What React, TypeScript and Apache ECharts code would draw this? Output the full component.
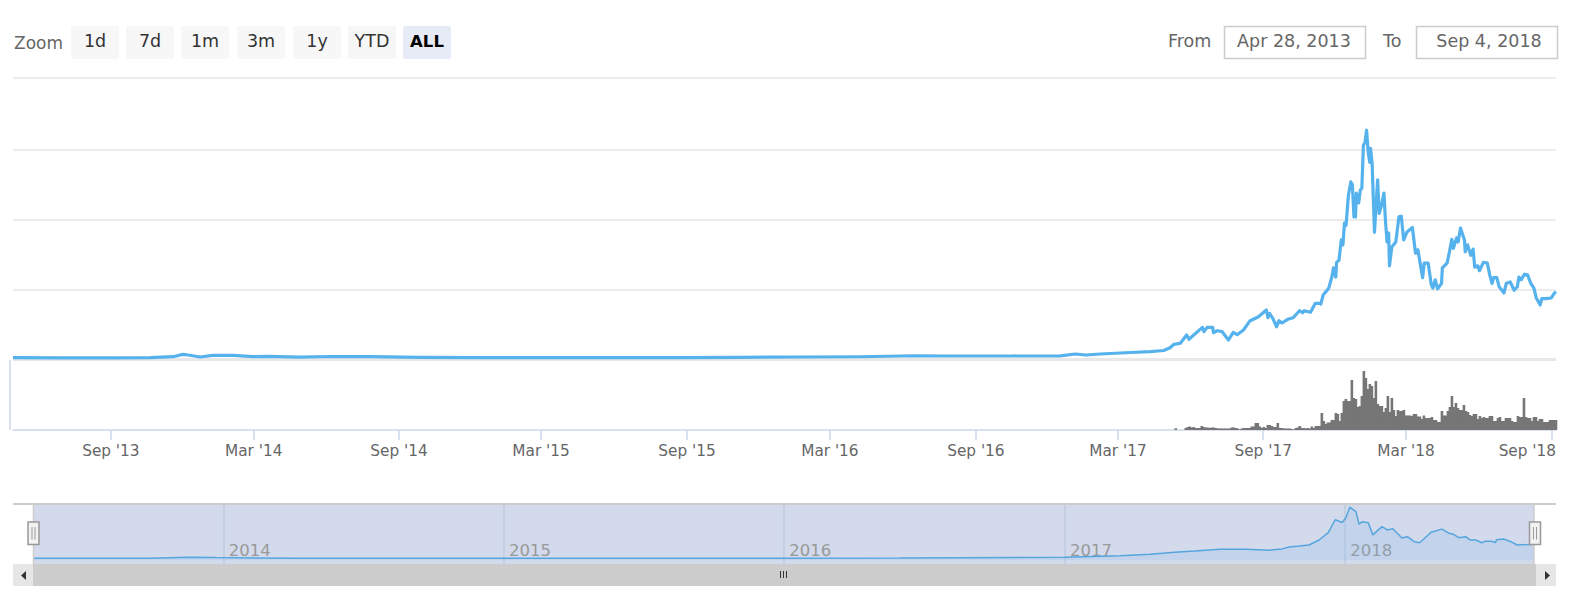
import { useEffect, useRef } from 'react';
import * as echarts from 'echarts';

// x axis runs in days since Apr 28, 2013
const END_DAY = 1955;

const priceDays = [
  0, 60, 123, 174, 203, 215, 222, 237, 253, 279, 304, 322, 364, 402, 452, 516, 592, 668, 744, 845, 921, 997, 1073,
  1143, 1188, 1264, 1327, 1346, 1359, 1378, 1416, 1441, 1458, 1466, 1471, 1479, 1487, 1490, 1496, 1507, 1509, 1513,
  1520, 1521, 1526, 1532, 1540, 1546, 1551, 1559, 1567, 1578, 1588, 1590, 1592, 1596, 1601, 1604, 1608, 1615, 1622,
  1630, 1634, 1636, 1644, 1650, 1655, 1657, 1660, 1667, 1671, 1673, 1676, 1677, 1680, 1683, 1685, 1687, 1689, 1692,
  1695, 1697, 1699, 1701, 1702, 1705, 1707, 1709, 1711, 1713, 1715, 1717, 1719, 1720, 1722, 1725, 1729, 1731, 1734,
  1737, 1739, 1741, 1743, 1744, 1747, 1752, 1756, 1759, 1762, 1766, 1773, 1777, 1780, 1786, 1788, 1793, 1797, 1799,
  1802, 1805, 1810, 1811, 1817, 1820, 1823, 1825, 1829, 1831, 1834, 1839, 1840, 1843, 1847, 1850, 1852, 1856, 1858,
  1863, 1868, 1871, 1874, 1876, 1880, 1883, 1889, 1892, 1897, 1902, 1906, 1908, 1911, 1915, 1919, 1923, 1927, 1930,
  1935, 1937, 1942, 1949, 1953, 1955,
];
const priceValues = [
  2.6, 2.4, 2.4, 2.6, 4, 7.4, 6.4, 3.6, 6, 6, 4, 4.6, 3.3, 4.3, 4, 3.1, 2.7, 2.7, 2.7, 2.6, 3.1, 3.6, 3.9, 5.4, 5, 5,
  5.3, 7.9, 6.4, 7.9, 10, 11.4, 12.9, 16.9, 21.7, 23.2, 35, 28.9, 35, 46, 39.8, 46, 46, 38.3, 41.2, 39.8, 27.9, 38.9,
  35.5, 42.2, 55, 61.2, 70.8, 59.8, 66, 59.3, 46.9, 55.5, 52.2, 57.5, 59.8, 69.8, 66.9, 69.8, 67.5, 80.4, 80.4, 79.4,
  92.2, 102, 118, 131, 118, 139, 142, 171, 164, 195, 192, 235, 254, 250, 204, 204, 238, 224, 242, 245, 307, 310, 328,
  297, 282, 302, 281, 182, 257, 209, 221, 238, 197, 168, 181, 134, 161, 168, 204, 205, 171, 182, 189, 152, 157, 117,
  138, 138, 107, 102, 114, 101, 109, 131, 138, 154, 172, 159, 174, 168, 188, 171, 154, 164, 149, 158, 132, 134, 127,
  139, 138, 121, 109, 117, 117, 104, 95, 109, 111, 99, 104, 118, 114, 122, 121, 109, 102, 88, 78, 87, 87, 88, 95, 97,
];

// one grouped bar every 2.535 days, the first one on day 1473
const volumeStartDay = 1473;
const volumeStepDays = 2.535;
const volumeValues = [
  1.7, 0, 0, 0, 0, 2, 3, 3.5, 2.5, 3, 2, 2, 2, 4, 3, 2.5, 2.5, 2, 2.5, 2.5, 2, 1.5, 1.5, 1.5, 1.5, 1.5, 1.5, 1.5, 2.5,
  2.5, 2, 1.5, 0.5, 1.5, 2, 2, 2, 2, 3.5, 3.5, 7, 7, 3.5, 2, 3, 2, 5, 5, 4, 3, 3, 7, 2, 2, 1.5, 1.5, 1.5, 1.5, 1, 0.5,
  2, 2.5, 4, 2, 2, 1.5, 2, 1.5, 3.5, 2, 4, 4, 4, 17, 9, 6, 7.5, 7.5, 10, 10, 17, 16, 9, 17, 29, 31, 29, 29, 50, 32, 31,
  23, 24, 34, 59, 52, 41, 46, 44, 32, 49, 26, 24, 24, 18, 22, 34, 18, 32, 20, 14, 20, 19, 19, 20, 14.5, 14.5, 14.5, 14,
  16, 16, 13.5, 13.5, 11, 14.5, 12, 12, 12, 13, 10, 10, 8, 8, 19, 14.5, 14.5, 19, 23, 34, 23, 27, 22, 20, 20, 25, 19,
  18, 15, 14, 16, 16, 11, 14, 12, 13, 12, 12, 14, 14, 9, 9, 12, 13, 9, 9, 12, 12, 12, 9, 8, 8, 14, 13, 13, 32, 13, 12,
  12, 9, 13, 13, 9, 11, 11, 8, 8, 8, 10, 10, 10, 10,
];

const navDays = [
  0, 152, 204, 237, 348, 739, 1129, 1344, 1416, 1455, 1487, 1513, 1546, 1579, 1610, 1627, 1636, 1649, 1662, 1675, 1687,
  1696, 1705, 1710, 1715, 1723, 1727, 1731, 1739, 1745, 1757, 1764, 1771, 1783, 1790, 1799, 1806, 1821, 1835, 1844,
  1849, 1857, 1866, 1872, 1879, 1887, 1892, 1899, 1905, 1906, 1916, 1925, 1933, 1948, 1955,
];
const navValues = [
  11, 11, 16.5, 15, 11, 11, 12, 16.5, 25, 33, 44, 50, 60, 60, 55, 62, 72, 77, 83, 110, 150, 220, 205, 231, 288, 264, 196,
  209, 204, 138, 183, 165, 171, 121, 128, 101, 95, 152, 169, 147, 143, 123, 128, 110, 110, 95, 104, 104, 97, 112, 115,
  101, 83, 86, 88,
];

const priceGridValues = [0, 100, 200, 300, 402.7];
const tickDays = [124, 305, 489, 669, 854, 1035, 1220, 1400, 1584, 1765, 1949];
// the last label sits against the right edge of the plot
const labelDays = [124, 305, 489, 669, 854, 1035, 1220, 1400, 1584, 1765, 1955];
const tickLabels = [
  "Sep '13", "Mar '14", "Sep '14", "Mar '15", "Sep '15", "Mar '16", "Sep '16", "Mar '17", "Sep '17", "Mar '18", "Sep '18",
];
const navTickDays = [248, 613, 978, 1344, 1709];
const navTickLabels = ['2014', '2015', '2016', '2017', '2018'];

const zoomButtons = ['1d', '7d', '1m', '3m', '1y', 'YTD', 'ALL'];
const fromDate = 'Apr 28, 2013';
const toDate = 'Sep 4, 2018';

const FONT = '"DejaVu Sans", sans-serif';

function buildGraphic() {
  const label = (text: string, x: number, y: number, fill: string, size = 17.5, align = 'left', weight = 'normal') => ({
    type: 'text',
    z: 20,
    silent: true,
    style: { text, x, y, fill, fontFamily: FONT, fontSize: size, fontWeight: weight, textAlign: align, textVerticalAlign: 'middle' },
  });
  const hline = (x1: number, x2: number, y: number, stroke: string, lineWidth = 1, z = 1) => ({
    type: 'line', z, silent: true, shape: { x1, y1: y, x2, y2: y }, style: { stroke, lineWidth },
  });
  const vline = (x: number, y1: number, y2: number, stroke: string, lineWidth = 1, z = 5) => ({
    type: 'line', z, silent: true, shape: { x1: x, y1, x2: x, y2 }, style: { stroke, lineWidth },
  });
  const box = (x: number, y: number, width: number, height: number, fill: string, stroke = 'none', lineWidth = 0, r = 0, z = 5) => ({
    type: 'rect', z, silent: true, shape: { x, y, width, height, r }, style: { fill, stroke, lineWidth },
  });
  const handle = (x: number) => [
    box(x, 522, 11, 22.5, '#f2f2f2', '#999999', 1.5, 0, 15),
    vline(x + 4, 527, 539.5, '#999999', 1, 16),
    vline(x + 7, 527, 539.5, '#999999', 1, 16),
  ];

  const buttonLefts = [71, 126, 181, 237, 293, 348, 403];
  const els: any[] = [
    label('Zoom', 14, 43, '#666666', 17),
    // range inputs
    label('From', 1168, 41, '#666666'),
    box(1224.5, 26.5, 141, 32, '#ffffff', '#cccccc', 1.5),
    label(fromDate, 1294, 41, '#666666', 17.5, 'center'),
    label('To', 1383, 41, '#666666'),
    box(1416.5, 26.5, 141, 32, '#ffffff', '#cccccc', 1.5),
    label(toDate, 1489, 41, '#666666', 17.5, 'center'),
    // band between the price and volume panes
    hline(13, 1556, 359.5, '#e8e8e8', 3),
    // volume axis line, a little left of the plot
    vline(10, 360, 430, '#ccd6eb', 1.5),
    // navigator frame
    hline(13, 1556, 504, '#cccccc', 2, 5),
    vline(33.5, 504, 564, '#cccccc', 1.5),
    vline(1534, 504, 564, '#cccccc', 1.5),
    // scrollbar
    box(13, 564, 1543, 22, '#cccccc'),
    box(13, 564, 20, 22, '#e6e6e6', 'none', 0, 0, 6),
    box(1536, 564, 20, 22, '#e6e6e6', 'none', 0, 0, 6),
    { type: 'polygon', z: 7, silent: true, shape: { points: [[26, 571], [26, 580], [21, 575.5]] }, style: { fill: '#333333' } },
    { type: 'polygon', z: 7, silent: true, shape: { points: [[1545, 571], [1545, 580], [1550, 575.5]] }, style: { fill: '#333333' } },
    vline(780.5, 571, 578, '#333333', 1, 7),
    vline(783.5, 571, 578, '#333333', 1, 7),
    vline(786.5, 571, 578, '#333333', 1, 7),
    ...handle(28),
    ...handle(1529.5),
  ];
  zoomButtons.forEach((name, i) => {
    const active = name === 'ALL';
    els.push(box(buttonLefts[i], 26, 48, 33, active ? '#e6ebf5' : '#f7f7f7', 'none', 0, 2));
    els.push(label(name, buttonLefts[i] + 24, 41, active ? '#000000' : '#333333', active ? 16.5 : 17.5, 'center', active ? 'bold' : 'normal'));
  });
  return els;
}

export default function App() {
  const containerRef = useRef<HTMLDivElement>(null);

  useEffect(() => {
    if (!containerRef.current) return;
    const chart = echarts.init(containerRef.current, undefined, { renderer: 'svg' });

    const base = { type: 'value' as const, min: 0, max: END_DAY };
    // bars would stretch a value axis, so they get a hidden category axis over the same span
    const volumeSteps = Math.round(END_DAY / volumeStepDays);
    const volumeLead = Math.round(volumeStartDay / volumeStepDays);
    const volumeCategories = Array.from({ length: volumeSteps + 1 }, (_, i) => String(i));
    const volumeData = volumeCategories.map((_, i) => volumeValues[i - volumeLead] ?? '-');

    const option: any = {
      animation: false,
      backgroundColor: '#ffffff',
      textStyle: { fontFamily: FONT },
      grid: [
        { left: 13, width: 1543, top: 78, height: 281.5 },
        { left: 13, width: 1543, top: 360, height: 70 },
        { left: 33.5, width: 1500.5, top: 505, height: 59, show: true, backgroundColor: '#d2daec', borderWidth: 0 },
      ],
      xAxis: [
        {
          ...base,
          gridIndex: 0,
          position: 'bottom',
          axisLine: { show: false },
          axisTick: { show: false },
          axisLabel: { show: false },
          splitLine: { show: false },
        },
        {
          ...base,
          gridIndex: 1,
          position: 'bottom',
          axisLine: { show: true, onZero: false, lineStyle: { color: '#ccd6eb', width: 1.5 } },
          axisTick: { show: true, length: 10, lineStyle: { color: '#ccd6eb', width: 1.5 }, customValues: tickDays },
          axisLabel: {
            show: true,
            customValues: labelDays,
            formatter: (v: number) => tickLabels[labelDays.indexOf(v)] ?? '',
            color: '#666666',
            fontFamily: FONT,
            fontSize: 15.3,
            margin: 13,
            hideOverlap: false,
            alignMaxLabel: 'right',
          },
          splitLine: { show: false },
        },
        {
          ...base,
          gridIndex: 2,
          position: 'bottom',
          axisLine: { show: false },
          axisTick: { show: false, customValues: navTickDays },
          axisLabel: {
            show: true,
            inside: true,
            customValues: navTickDays,
            formatter: (v: number) => navTickLabels[navTickDays.indexOf(v)] ?? '',
            color: '#999999',
            fontFamily: FONT,
            fontSize: 16.5,
            align: 'left',
            padding: [0, 0, 0, 5],
            margin: 5,
            hideOverlap: false,
          },
          splitLine: { show: true, lineStyle: { color: '#bfcbe0', width: 1.5 } },
        },
        {
          type: 'category',
          gridIndex: 1,
          position: 'top',
          data: volumeCategories,
          boundaryGap: false,
          show: false,
        },
      ],
      yAxis: [
        {
          type: 'value',
          gridIndex: 0,
          min: 0,
          max: 402.7,
          axisLine: { show: false },
          axisTick: { show: false, customValues: priceGridValues },
          axisLabel: { show: false },
          splitLine: { show: true, lineStyle: { color: '#e6e6e6', width: 1.5 } },
        },
        {
          type: 'value',
          gridIndex: 1,
          min: 0,
          max: 70,
          axisLine: { show: false },
          axisTick: { show: false },
          axisLabel: { show: false },
          splitLine: { show: false },
        },
        { type: 'value', gridIndex: 2, min: -20, max: 300, show: false, splitLine: { show: false } },
      ],
      series: [
        {
          type: 'line',
          xAxisIndex: 0,
          yAxisIndex: 0,
          data: priceDays.map((d, i) => [d, priceValues[i]]),
          showSymbol: false,
          lineStyle: { color: '#55b2ec', width: 3.2, join: 'round' },
          z: 3,
        },
        {
          type: 'bar',
          xAxisIndex: 3,
          yAxisIndex: 1,
          data: volumeData,
          barWidth: 2.6,
          itemStyle: { color: '#767676' },
        },
        {
          type: 'line',
          xAxisIndex: 2,
          yAxisIndex: 2,
          data: navDays.map((d, i) => [d, navValues[i]]),
          showSymbol: false,
          lineStyle: { color: '#55a5de', width: 1.5 },
          areaStyle: { color: 'rgba(124, 181, 236, 0.25)' },
          z: 3,
        },
      ],
      graphic: buildGraphic(),
    };

    chart.setOption(option);
    return () => chart.dispose();
  }, []);

  return <div ref={containerRef} style={{ position: 'fixed', left: 0, top: 0, width: 1569, height: 602 }} />;
}
